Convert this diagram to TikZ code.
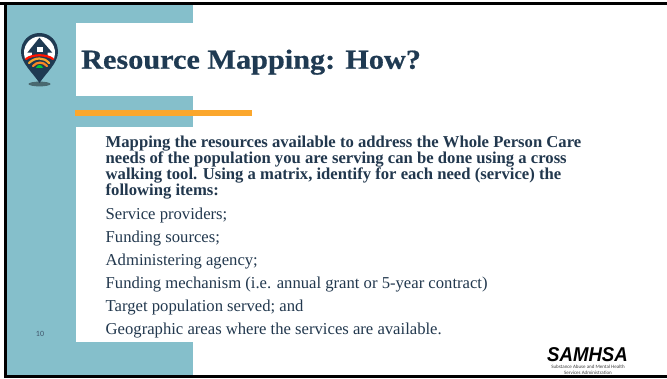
\documentclass[tikz,border=0pt]{standalone}
\usepackage{fontspec}
\setmainfont{Liberation Serif}
\newfontfamily\titleserif[FakeStretch=1.1,FakeBold=0.6]{Liberation Serif}
\newfontfamily\logosans[FakeStretch=0.93]{Liberation Sans}
\newfontfamily\numsans{Carlito}
\definecolor{teal1}{HTML}{85BFCB}
\definecolor{navy}{HTML}{1F3A52}
\definecolor{bodyink}{HTML}{22384E}
\definecolor{orng}{HTML}{FBA72D}
\tikzset{
 x=1pt,y=-1pt,
 bodybold/.style={anchor=base west,inner sep=0,font=\fontsize{16.65}{18}\selectfont\bfseries,text=bodyink},
 bodyline/.style={anchor=base west,inner sep=0,font=\fontsize{16.65}{18}\selectfont,text=bodyink},
 tealfill/.style={fill=teal1,draw=none},
 arcline/.style={line width=2.2pt,line cap=round},
 subline/.style={anchor=base,inner sep=0,text=black!75,font=\numsans\fontsize{5}{5}\selectfont},
}
\begin{document}
\begin{tikzpicture}
\useasboundingbox (0,0) rectangle (667,378);
\fill[white] (0,0) rectangle (667,378);
% teal banner
\fill[tealfill] (7,5) rectangle (193,375);
\fill[white] (76,23) rectangle (193,96);
\fill[white] (76,127) rectangle (193,342);
% accent
\fill[orng] (75,110) rectangle (252,116);
% logo pin
\fill[black!45!teal1] (39.5,84) ellipse (11 and 2.4);
\fill[navy] (39.5,83) .. controls (33,73) and (21,63) .. (21,52) .. controls (21,41) and (29,33) .. (39.5,33) .. controls (50,33) and (58,41) .. (58,52) .. controls (58,63) and (46,73) .. (39.5,83) -- cycle;
\fill[white] (25,59) .. controls (21,46) and (30,36.5) .. (39.5,36.5) .. controls (49,36.5) and (58,46) .. (54,59) .. controls (47,53) and (32,53) .. (25,59) -- cycle;
\fill[navy] (39.4,37.7) -- (52.3,52.7) -- (47.7,52.7) -- (47.7,56) -- (32,56) -- (32,52.7) -- (27.3,52.7) -- cycle;
\fill[white] (36.7,47) rectangle (42.7,52.3);
\draw[red!85!orange,arcline] (26,59) .. controls (33,54) and (46,54) .. (53,59);
\draw[orng,arcline] (29,63) .. controls (35,57) and (44,57) .. (49,63);
\draw[orng!80!red,arcline] (33,66) .. controls (37,61.5) and (43,61.5) .. (47,66);
\fill[green!55!teal] (36,67.8) .. controls (37.5,64) and (41.5,64) .. (43,67.8) -- cycle;
% title
\node[anchor=base west,inner sep=0,text=navy,font=\titleserif\fontsize{27.5}{30}\selectfont\bfseries] (title) at (81,68.7) {Resource Mapping: How?};
% body
\node[bodybold] (b1) at (105.5,147.7) {Mapping the resources available to address the Whole Person Care};
\node[bodybold] (b2) at (105.5,163.8) {needs of the population you are serving can be done using a cross};
\node[bodybold] (b3) at (105.5,179.8) {walking tool. Using a matrix, identify for each need (service) the};
\node[bodybold] (b4) at (105.5,195.7) {following items:};
\node[bodyline] (i1) at (105.5,219.3) {Service providers;};
\node[bodyline] (i2) at (105.5,242) {Funding sources;};
\node[bodyline] (i3) at (105.5,265.7) {Administering agency;};
\node[bodyline] (i4) at (105.5,288.3) {Funding mechanism (i.e. annual grant or 5-year contract)};
\node[bodyline] (i5) at (105.5,311.3) {Target population served; and};
\node[bodyline] (i6) at (105.5,334) {Geographic areas where the services are available.};
\node[anchor=base,inner sep=0,text=navy!85,font=\numsans\fontsize{8}{8}\selectfont] (num) at (40,336.8) {10};
% samhsa
\node[anchor=base,inner sep=0,font=\logosans\fontsize{20}{20}\selectfont\bfseries\itshape] (sam) at (587.5,361.7) {SAMHSA};
\node[subline] (s1) at (588,368.3) {Substance Abuse and Mental Health};
\node[subline] (s2) at (588,374) {Services Administration};
% frame: top, left and bottom edges only
\fill[black] (0,2) rectangle (667,5);
\fill[black] (4,2) rectangle (7,378);
\fill[black] (4,375) rectangle (667,378);
\end{tikzpicture}
\end{document}
